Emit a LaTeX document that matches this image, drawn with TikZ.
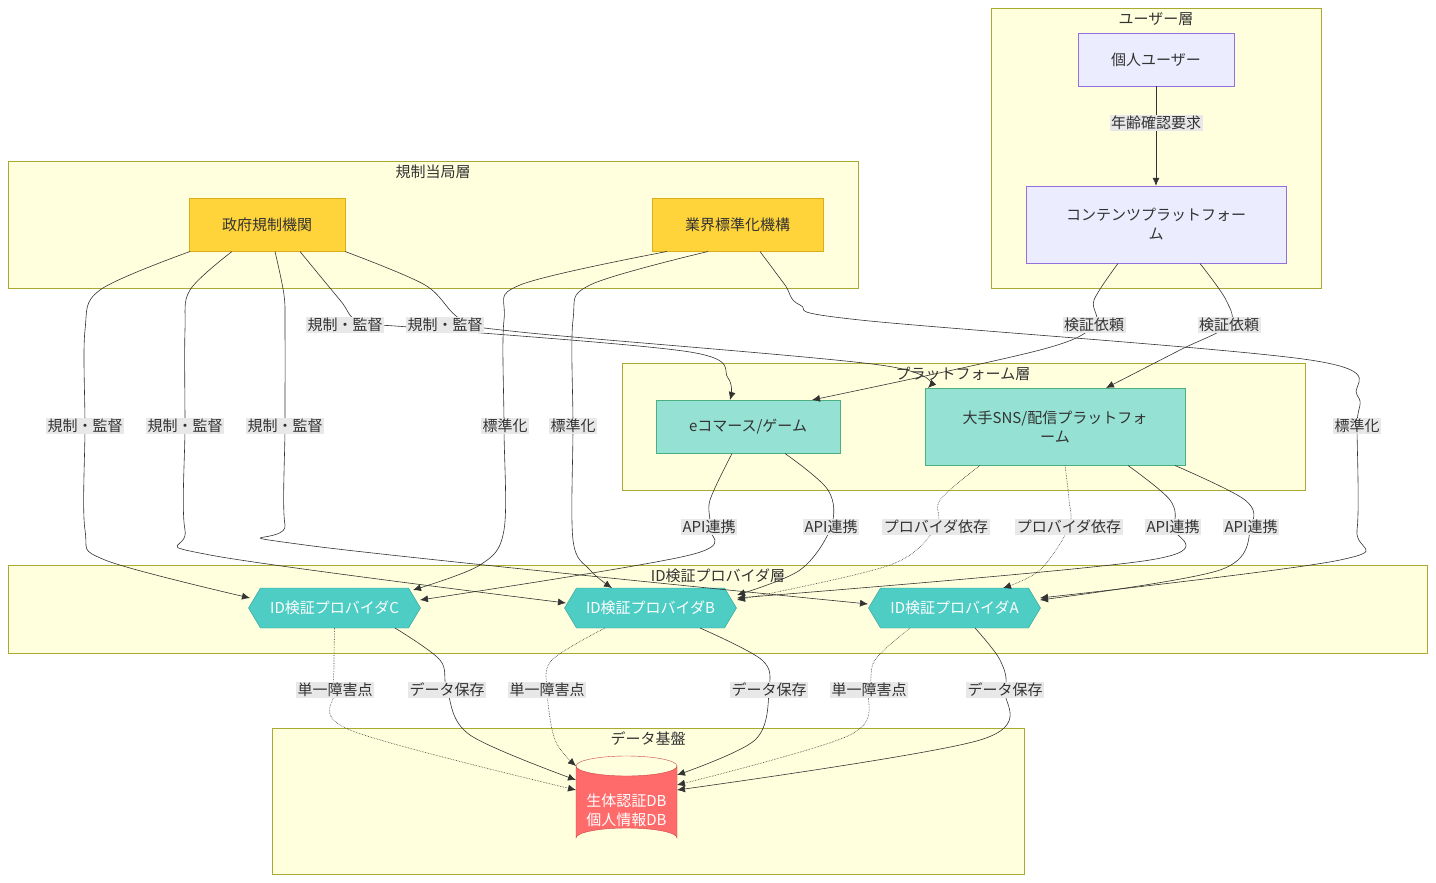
\documentclass[tikz,border=0pt]{standalone}
\usepackage{fontspec}
\setmainfont{Noto Sans CJK JP}
\usetikzlibrary{shapes.geometric,arrows.meta,calc}
\definecolor{clfill}{HTML}{FFFFDE}
\definecolor{clline}{HTML}{AAAA33}
\definecolor{usrfill}{HTML}{ECECFF}
\definecolor{usrline}{HTML}{9370DB}
\definecolor{regfill}{HTML}{FFD43B}
\definecolor{regline}{HTML}{D9AE1A}
\definecolor{platfill}{HTML}{95E1D3}
\definecolor{platline}{HTML}{4CAF82}
\definecolor{idfill}{HTML}{4ECDC4}
\definecolor{idline}{HTML}{2A9D95}
\definecolor{dbfill}{HTML}{FF6B6B}
\definecolor{dbline}{HTML}{C94444}
\definecolor{lblbg}{HTML}{E8E8E8}
\tikzset{
  x=1pt,y=-1pt,
  every node/.style={font=\fontsize{15}{19}\selectfont, text=black!80},
  cluster/.style={draw=clline, fill=clfill, line width=0.8pt},
  ctitle/.style={font=\fontsize{15}{19}\selectfont},
  usrbox/.style={draw=usrline, fill=usrfill, minimum height=53pt, align=center},
  regbox/.style={draw=regline, fill=regfill, minimum height=53pt},
  platbox/.style={draw=platline, fill=platfill, align=center},
  lbl/.style={fill=lblbg, inner sep=1.5pt, font=\fontsize{15}{17}\selectfont},
  arr/.style={draw=black!80, line width=0.6pt, -{Latex[length=8pt,width=7pt]}},
  dep/.style={arr, densely dotted},
}
\newcommand{\hexnode}[3]{%
  \draw[idline, fill=idfill] ($(#2)+(-86,0)$) -- ($(#2)+(-74,-20)$) -- ($(#2)+(74,-20)$) -- ($(#2)+(86,0)$) -- ($(#2)+(74,20)$) -- ($(#2)+(-74,20)$) -- cycle;
  \node[text=white, minimum width=172pt, minimum height=40pt, inner sep=0pt] (#1) at (#2) {#3};}
\begin{document}
\begin{tikzpicture}
\useasboundingbox (0,0) rectangle (1436,883);
% clusters
\draw[cluster] (991,8) rectangle (1321,288);
\node[ctitle] (tu) at (1156,19) {ユーザー層};
\draw[cluster] (8,161) rectangle (858,288);
\node[ctitle] (tr) at (433,172) {規制当局層};
\draw[cluster] (622,363) rectangle (1305,490);
\draw[cluster] (8,565) rectangle (1427,653);
\draw[cluster] (272,728) rectangle (1024,874);

% nodes
\node[usrbox, minimum width=156pt] (user) at (1156,59.5) {個人ユーザー};
\node[usrbox, minimum width=260pt, minimum height=77pt] (cp) at (1156,224.5) {コンテンツプラットフォー\\ム};
\node[regbox, minimum width=156pt] (gov) at (267,224.5) {政府規制機関};
\node[regbox, minimum width=171pt] (ind) at (737.5,224.5) {業界標準化機構};
\node[platbox, minimum width=184pt, minimum height=53pt] (ec) at (748,426.5) {eコマース/ゲーム};
\node[platbox, minimum width=260pt, minimum height=77pt] (sns) at (1055,426.5) {大手SNS/配信プラットフォ\\ーム};

\coordinate (cC) at (334.5,608);
\coordinate (cB) at (650.5,608);
\coordinate (cA) at (954.5,608);
\hexnode{idC}{cC}{ID検証プロバイダC}
\hexnode{idB}{cB}{ID検証プロバイダB}
\hexnode{idA}{cA}{ID検証プロバイダA}

% database cylinder
\draw[dbline, fill=dbfill] (576,766) -- (576,838) arc[start angle=180, end angle=360, x radius=50.5, y radius=10] -- (677,766) arc[start angle=0, end angle=180, x radius=50.5, y radius=10] -- cycle;
\draw[dbline] (576,766) arc[start angle=180, end angle=360, x radius=50.5, y radius=10];
\node[text=white, align=center, inner sep=0pt, minimum width=101pt, minimum height=70pt] (db) at (626.5,810) {生体認証DB\\個人情報DB};

% cluster titles drawn over edges later
% edges
\draw[arr] (user.south) -- (cp.north);
\draw[arr] plot[smooth, tension=0.55] coordinates {(1118,263.5) (1094,300) (1094,325) (1040,350) (812,400)};
\draw[arr] plot[smooth, tension=0.55] coordinates {(1200,263.5) (1226,300) (1229,325) (1180,350) (1106,388)};
\draw[arr] plot[smooth, tension=0.55] coordinates {(300,251.5) (340,300) (360,322) (420,328) (690,352) (728,378) (730,400)};
\draw[arr] plot[smooth, tension=0.55] coordinates {(345,251.5) (425,285) (462,320) (520,332) (880,365) (928,388)};
\draw[arr] plot[smooth, tension=0.55] coordinates {(190,251.5) (100,290) (85,330) (85,426) (85,530) (105,560) (250,598)};
\draw[arr] plot[smooth, tension=0.55] coordinates {(232,251.5) (190,290) (185,330) (185,426) (185,530) (210,555) (566,603)};
\draw[arr] plot[smooth, tension=0.55] coordinates {(275,251.5) (284,295) (285,330) (285,426) (285,525) (305,545) (868,604)};
\draw[arr] plot[smooth, tension=0.55] coordinates {(667,251.5) (520,285) (504,320) (504,426) (504,530) (480,565) (413,590)};
\draw[arr] plot[smooth, tension=0.55] coordinates {(708,251.5) (590,285) (573,320) (573,426) (573,540) (590,570) (612,588)};
\draw[arr] plot[smooth, tension=0.55] coordinates {(760,251.5) (785,285) (800,305) (860,320) (1310,360) (1357,395) (1357,426) (1357,530) (1340,560) (1040,598)};
\draw[arr] plot[smooth, tension=0.55] coordinates {(732,453.5) (710,500) (709,527) (690,555) (420,600)};
\draw[arr] plot[smooth, tension=0.55] coordinates {(785,453.5) (828,490) (831,527) (800,570) (737,595)};
\draw[dep] plot[smooth, tension=0.55] coordinates {(980,465.5) (940,500) (936,527) (890,565) (737,600)};
\draw[dep] plot[smooth, tension=0.55] coordinates {(1065,465.5) (1069,500) (1069,527) (1040,570) (1003,588)};
\draw[arr] plot[smooth, tension=0.55] coordinates {(1128,465.5) (1170,500) (1173,527) (1150,560) (737,598)};
\draw[arr] plot[smooth, tension=0.55] coordinates {(1175,465.5) (1245,500) (1251,527) (1220,570) (1040,600)};
\draw[dep] plot[smooth, tension=0.55] coordinates {(334.5,628) (334,665) (335,690) (350,730) (576,790)};
\draw[arr] plot[smooth, tension=0.55] coordinates {(395,628) (440,660) (447,690) (470,735) (576,780)};
\draw[dep] plot[smooth, tension=0.55] coordinates {(605,628) (552,660) (547,690) (555,740) (576,766)};
\draw[arr] plot[smooth, tension=0.55] coordinates {(700,628) (762,660) (769,690) (755,740) (677,775)};
\draw[dep] plot[smooth, tension=0.55] coordinates {(910,628) (875,660) (869,690) (850,735) (677,785)};
\draw[arr] plot[smooth, tension=0.55] coordinates {(975,628) (1000,660) (1005,690) (980,740) (677,790)};

% cluster titles
\node[ctitle] (tp) at (963,374) {プラットフォーム層};
\node[ctitle] (ti) at (718,576) {ID検証プロバイダ層};
\node[ctitle] (td) at (648,739) {データ基盤};

% labels
\node[lbl] (l1) at (1156,123) {年齢確認要求};
\node[lbl] (l2) at (1094,325) {検証依頼};
\node[lbl] (l3) at (1229,325) {検証依頼};
\node[lbl] (l4) at (345,325) {規制・監督};
\node[lbl] (l5) at (445,325) {規制・監督};
\node[lbl] (l6) at (85,426) {規制・監督};
\node[lbl] (l7) at (185,426) {規制・監督};
\node[lbl] (l8) at (285,426) {規制・監督};
\node[lbl] (l9) at (505,426) {標準化};
\node[lbl] (l10) at (573,426) {標準化};
\node[lbl] (l11) at (1357,426) {標準化};
\node[lbl] (l12) at (709,527) {API連携};
\node[lbl] (l13) at (831,527) {API連携};
\node[lbl] (l14) at (936,527) {プロバイダ依存};
\node[lbl] (l15) at (1069,527) {プロバイダ依存};
\node[lbl] (l16) at (1173,527) {API連携};
\node[lbl] (l17) at (1251,527) {API連携};
\node[lbl] (l18) at (335,690) {単一障害点};
\node[lbl] (l19) at (447,690) {データ保存};
\node[lbl] (l20) at (547,690) {単一障害点};
\node[lbl] (l21) at (769,690) {データ保存};
\node[lbl] (l22) at (869,690) {単一障害点};
\node[lbl] (l23) at (1005,690) {データ保存};
\end{tikzpicture}
\end{document}
